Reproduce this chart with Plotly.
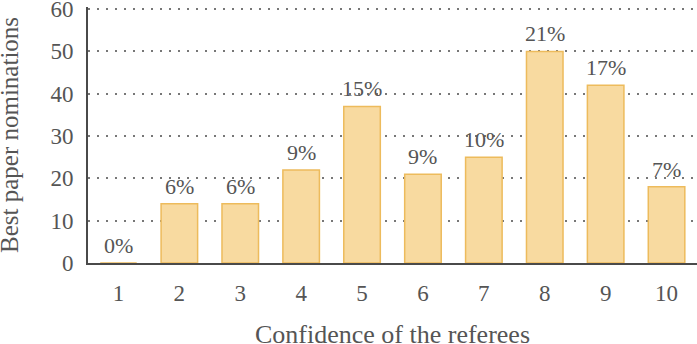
import plotly.graph_objects as go

categories = ["1", "2", "3", "4", "5", "6", "7", "8", "9", "10"]
nominations = [0, 14, 14, 22, 37, 21, 25, 50, 42, 18]
percent_labels = ["0%", "6%", "6%", "9%", "15%", "9%", "10%", "21%", "17%", "7%"]
y_ticks = [0, 10, 20, 30, 40, 50, 60]
x_title = "Confidence of the referees"
y_title = "Best paper nominations"

font_family = "Liberation Serif, Times New Roman, serif"
text_color = "#555555"

fig = go.Figure()
fig.add_trace(go.Bar(
    x=categories,
    y=nominations,
    marker=dict(color="#F8DAA0", line=dict(color="#EDBB5C", width=1.5)),
    width=0.6,
))

# category axis: annotation x is the category index
for idx, (val, lab) in enumerate(zip(nominations, percent_labels)):
    fig.add_annotation(
        x=idx, y=val, text=lab, showarrow=False,
        xanchor="center", yanchor="bottom", yshift=3,
        font=dict(family=font_family, size=22, color=text_color),
    )

# axis titles (placed as annotations so they can sit at the page edge)
fig.add_annotation(
    text=x_title, xref="paper", yref="paper", x=0.5, y=0,
    xanchor="center", yanchor="middle", yshift=-71, showarrow=False,
    font=dict(family=font_family, size=26, color=text_color),
)
fig.add_annotation(
    text=y_title, xref="paper", yref="paper", x=0, y=0.5,
    xanchor="center", yanchor="middle", xshift=-79, textangle=-90,
    showarrow=False,
    font=dict(family=font_family, size=25, color=text_color),
)

fig.update_layout(
    width=697, height=344,
    margin=dict(l=88, r=0, t=7, b=81, autoexpand=False),
    plot_bgcolor="white", paper_bgcolor="white",
    showlegend=False,
    font=dict(family=font_family, color=text_color, size=23),
    xaxis=dict(
        type="category",
        automargin=False,
        range=[-0.5, len(categories) - 0.5],
        showline=True, linecolor="#4a4a4a", linewidth=2,
        showgrid=False,
        ticks="", ticklabelstandoff=8,
        tickfont=dict(family=font_family, size=23, color=text_color),
    ),
    yaxis=dict(
        automargin=False,
        range=[0, 60.5],
        tickvals=y_ticks,
        ticklabeloverflow="allow",
        showline=True, linecolor="#4a4a4a", linewidth=2,
        showgrid=True, gridcolor="#777777", griddash="2px,7px", gridwidth=1.5,
        zeroline=False,
        ticks="", ticklabelstandoff=8,
        tickfont=dict(family=font_family, size=23, color=text_color),
    ),
)

fig.write_html("out.html")
